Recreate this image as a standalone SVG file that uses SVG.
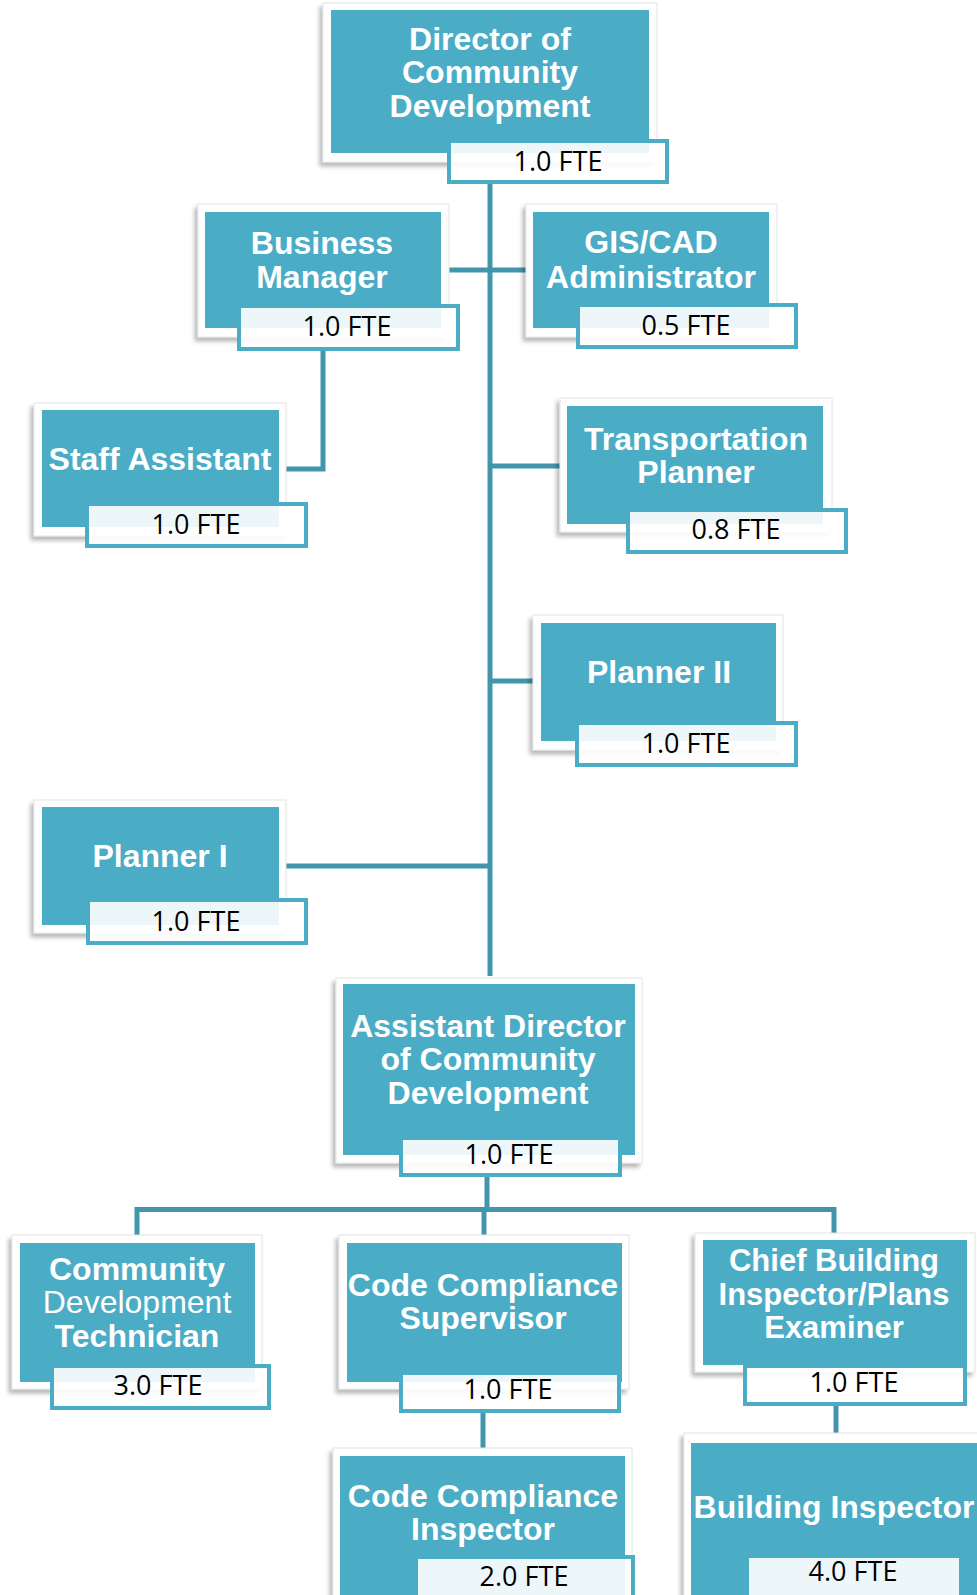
<svg xmlns="http://www.w3.org/2000/svg" width="977" height="1595" viewBox="0 0 977 1595">
<defs>
<filter id="sh" x="-10%" y="-10%" width="120%" height="125%">
<feDropShadow dx="-3" dy="4" stdDeviation="2" flood-color="#000" flood-opacity="0.28"/>
</filter>
<style>
.frame{fill:#fff;stroke:#e4e4e4;stroke-width:1;filter:url(#sh)}
.box{fill:#4BACC6}
.fte{fill:#fff;fill-opacity:0.9;stroke:#4BACC6;stroke-width:4}
.t{font-family:"Liberation Sans",Arial,sans-serif;font-weight:bold;font-size:32px;fill:#fff;text-anchor:middle}
.s{font-size:31px}
.r{font-weight:normal}
.f{font-family:"Open Sans","Liberation Sans",sans-serif;font-size:27px;fill:#000;text-anchor:middle}
.c{fill:none;stroke:#4296AC;stroke-width:5}
</style>
</defs>
<rect width="977" height="1595" fill="#fff"/>
<g id="connectors">
<path class="c" d="M490,182 V976"/>
<path class="c" d="M449,270 H526"/>
<path class="c" d="M323,350 V469 H286"/>
<path class="c" d="M490,466 H560"/>
<path class="c" d="M490,681 H533"/>
<path class="c" d="M286,866 H490"/>
<path class="c" d="M487,1176 V1210"/>
<path class="c" d="M137,1235 V1209.5 H834 V1233"/>
<path class="c" d="M484,1209 V1235"/>
<path class="c" d="M483,1412 V1448"/>
<path class="c" d="M836,1405 V1443"/>
</g>
<g id="director">
<rect class="frame" x="323" y="3" width="334" height="159"/>
<rect class="box" x="331" y="10" width="318" height="143"/>
<text class="t" x="490" y="50">Director of</text>
<text class="t" x="490" y="83">Community</text>
<text class="t" x="490" y="117">Development</text>
<rect class="fte" x="449" y="141" width="218" height="41"/>
<text class="f" x="558" y="171">1.0 FTE</text>
</g>
<g id="business-manager">
<rect class="frame" x="198" y="204" width="251" height="133"/>
<rect class="box" x="205" y="212" width="236" height="116"/>
<text class="t" x="322" y="254">Business</text>
<text class="t" x="322" y="288">Manager</text>
<rect class="fte" x="239" y="306" width="219" height="43"/>
<text class="f" x="347" y="336">1.0 FTE</text>
</g>
<g id="gis-cad">
<rect class="frame" x="526" y="204" width="251" height="133"/>
<rect class="box" x="533" y="212" width="236" height="116"/>
<text class="t" x="651" y="253">GIS/CAD</text>
<text class="t" x="651" y="288">Administrator</text>
<rect class="fte" x="578" y="305" width="218" height="42"/>
<text class="f" x="686" y="335">0.5 FTE</text>
</g>
<g id="staff-assistant">
<rect class="frame" x="34" y="403" width="252" height="133"/>
<rect class="box" x="42" y="410" width="237" height="117"/>
<text class="t" x="160" y="470">Staff Assistant</text>
<rect class="fte" x="87" y="504" width="219" height="42"/>
<text class="f" x="196" y="534">1.0 FTE</text>
</g>
<g id="transportation-planner">
<rect class="frame" x="560" y="398" width="272" height="134"/>
<rect class="box" x="567" y="406" width="256" height="118"/>
<text class="t" x="696" y="450">Transportation</text>
<text class="t" x="696" y="483">Planner</text>
<rect class="fte" x="628" y="510" width="218" height="42"/>
<text class="f" x="736" y="539">0.8 FTE</text>
</g>
<g id="planner-ii">
<rect class="frame" x="533" y="615" width="250" height="135"/>
<rect class="box" x="541" y="623" width="235" height="118"/>
<text class="t" x="659" y="683">Planner II</text>
<rect class="fte" x="577" y="723" width="219" height="42"/>
<text class="f" x="686" y="753">1.0 FTE</text>
</g>
<g id="planner-i">
<rect class="frame" x="34" y="800" width="252" height="133"/>
<rect class="box" x="42" y="807" width="237" height="118"/>
<text class="t" x="160" y="867">Planner I</text>
<rect class="fte" x="88" y="900" width="218" height="43"/>
<text class="f" x="196" y="931">1.0 FTE</text>
</g>
<g id="assistant-director">
<rect class="frame" x="336" y="978" width="306" height="185"/>
<rect class="box" x="343" y="984" width="292" height="171"/>
<text class="t" x="488" y="1037">Assistant Director</text>
<text class="t" x="488" y="1070">of Community</text>
<text class="t" x="488" y="1104">Development</text>
<rect class="fte" x="401" y="1138" width="219" height="37"/>
<text class="f" x="509" y="1164">1.0 FTE</text>
</g>
<g id="community-development-technician">
<rect class="frame" x="12" y="1235" width="250" height="154"/>
<rect class="box" x="20" y="1243" width="235" height="139"/>
<text class="t" x="137" y="1280">Community</text>
<text class="t r" x="137" y="1313">Development</text>
<text class="t" x="137" y="1347">Technician</text>
<rect class="fte" x="52" y="1366" width="217" height="42"/>
<text class="f" x="158" y="1395">3.0 FTE</text>
</g>
<g id="code-compliance-supervisor">
<rect class="frame" x="339" y="1235" width="290" height="154"/>
<rect class="box" x="347" y="1243" width="275" height="139"/>
<text class="t" x="483" y="1296">Code Compliance</text>
<text class="t" x="483" y="1329">Supervisor</text>
<rect class="fte" x="401" y="1373" width="218" height="38"/>
<text class="f" x="508" y="1399">1.0 FTE</text>
</g>
<g id="chief-building-inspector">
<rect class="frame" x="695" y="1233" width="280" height="139"/>
<rect class="box" x="703" y="1240" width="264" height="125"/>
<text class="t s" x="834" y="1271">Chief Building</text>
<text class="t s" x="834" y="1305">Inspector/Plans</text>
<text class="t s" x="834" y="1338">Examiner</text>
<rect class="fte" x="745" y="1366" width="220" height="38"/>
<text class="f" x="854" y="1392">1.0 FTE</text>
</g>
<g id="code-compliance-inspector">
<rect class="frame" x="333" y="1448" width="299" height="160"/>
<rect class="box" x="340" y="1456" width="285" height="150"/>
<text class="t" x="483" y="1507">Code Compliance</text>
<text class="t" x="483" y="1540">Inspector</text>
<rect class="fte" x="416" y="1557" width="217" height="42"/>
<text class="f" x="524" y="1586">2.0 FTE</text>
</g>
<g id="building-inspector">
<rect class="frame" x="684" y="1433" width="300" height="175"/>
<rect class="box" x="691" y="1443" width="290" height="165"/>
<text class="t" x="834" y="1518">Building Inspector</text>
<rect class="fte" x="747" y="1556" width="214" height="44"/>
<text class="f" x="853" y="1581">4.0 FTE</text>
</g>
</svg>
